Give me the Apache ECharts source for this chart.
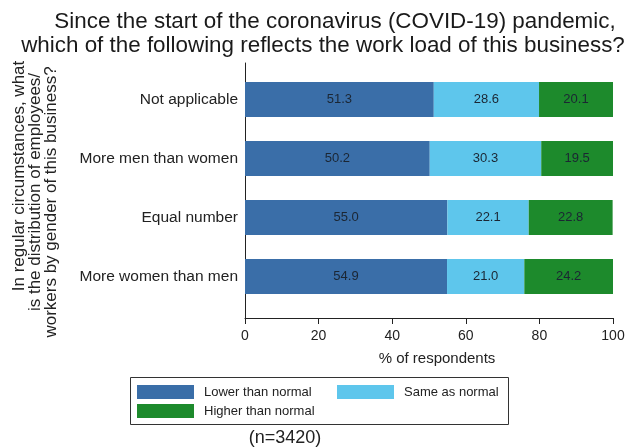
<!DOCTYPE html>
<html>
<head>
<meta charset="utf-8">
<script src="https://cdn.jsdelivr.net/npm/echarts@6/dist/echarts.min.js"></script>
<style>
html,body{margin:0;padding:0;background:#fff;}
#chart{width:631px;height:448px;}
</style>
</head>
<body>
<div id="chart"></div>
<script>
var categories = ['Not applicable', 'More men than women', 'Equal number', 'More women than men'];
var lowerThanNormal = [51.3, 50.2, 55.0, 54.9];
var sameAsNormal = [28.6, 30.3, 22.1, 21.0];
var higherThanNormal = [20.1, 19.5, 22.8, 24.2];
var xTicks = [0, 20, 40, 60, 80, 100];
var seriesNames = ['Lower than normal', 'Same as normal', 'Higher than normal'];
var titleLines = ['Since the start of the coronavirus (COVID-19) pandemic,', 'which of the following reflects the work load of this business?'];
var yTitleLines = ['In regular circumstances, what', 'is the distribution of employees/', 'workers by gender of this business?'];

var FONT = '"Liberation Sans", Arial, sans-serif';
var colors = ['#3a6ea8', '#5ec6ec', '#1d8a2c'];

var chart = echarts.init(document.getElementById('chart'), null, {renderer: 'canvas'});

function barSeries(name, data, color) {
  return {
    name: name,
    type: 'bar',
    stack: 'total',
    xAxisIndex: 0,
    yAxisIndex: 0,
    barWidth: 35,
    data: data,
    itemStyle: {color: color},
    label: {
      show: true,
      position: 'inside',
      color: '#1b2633',
      fontFamily: FONT,
      fontSize: 13,
      formatter: function (p) { return p.value.toFixed(1); }
    },
    emphasis: {disabled: true}
  };
}

function legendOne(name, left, top) {
  return {
    data: [name],
    left: left,
    top: top,
    padding: 0,
    icon: 'rect',
    itemWidth: 57,
    itemHeight: 14,
    selectedMode: false,
    textStyle: {fontFamily: FONT, fontSize: 13, color: '#222', padding: [0, 0, 0, 5]}
  };
}

function yTitle(text, x, y) {
  return {
    type: 'text', x: x, y: y, rotation: Math.PI / 2,
    style: {
      text: text, fontFamily: FONT, fontSize: 17, fill: '#222',
      align: 'center', verticalAlign: 'middle'
    }
  };
}

var option = {
  backgroundColor: '#ffffff',
  animation: false,
  color: colors,
  grid: [
    {left: 245, right: 18, top: 70, height: 236, containLabel: false},
    {left: 245, right: 18, top: 63, bottom: 130, containLabel: false}
  ],
  xAxis: [
    {
      gridIndex: 0, type: 'value', min: 0, max: 100, show: false
    },
    {
      gridIndex: 1, type: 'value', min: xTicks[0], max: xTicks[xTicks.length - 1], interval: 20,
      axisLine: {show: true, lineStyle: {color: '#222', width: 1}},
      axisTick: {show: true, length: 6, lineStyle: {color: '#222'}},
      axisLabel: {show: true, margin: 11, fontFamily: FONT, fontSize: 14, color: '#222'},
      splitLine: {show: false},
      name: '% of respondents',
      nameLocation: 'middle',
      nameGap: 33,
      nameTextStyle: {fontFamily: FONT, fontSize: 15, color: '#222', padding: [0, 0, 0, 16]}
    }
  ],
  yAxis: [
    {
      gridIndex: 0, type: 'category', data: categories, inverse: true,
      axisLine: {show: false},
      axisTick: {show: false},
      axisLabel: {fontFamily: FONT, fontSize: 15.5, color: '#222', margin: 7}
    },
    {
      gridIndex: 1, type: 'value', min: 0, max: 1,
      axisLine: {show: true, lineStyle: {color: '#222', width: 1}},
      axisTick: {show: false},
      axisLabel: {show: false},
      splitLine: {show: false}
    }
  ],
  legend: [
    legendOne(seriesNames[0], 137, 385),
    legendOne(seriesNames[1], 337, 385),
    legendOne(seriesNames[2], 137, 404)
  ],
  graphic: [
    {
      type: 'text', x: 335, y: 22,
      style: {text: titleLines[0], fontFamily: FONT, fontSize: 22.4, fill: '#1a1a1a', align: 'center', verticalAlign: 'middle'}
    },
    {
      type: 'text', x: 323, y: 46,
      style: {text: titleLines[1], fontFamily: FONT, fontSize: 22.4, fill: '#1a1a1a', align: 'center', verticalAlign: 'middle'}
    },
    yTitle(yTitleLines[0], 19, 176),
    yTitle(yTitleLines[1], 35, 192),
    yTitle(yTitleLines[2], 51, 202),
    {
      type: 'rect', shape: {x: 130.5, y: 377.5, width: 378, height: 47},
      style: {fill: 'none', stroke: '#333', lineWidth: 1}, silent: true
    },
    {
      type: 'text', x: 285, y: 438,
      style: {
        text: '(n=3420)', fontFamily: FONT, fontSize: 18, fill: '#222',
        align: 'center', verticalAlign: 'middle'
      }
    }
  ],
  series: [
    barSeries(seriesNames[0], lowerThanNormal, colors[0]),
    barSeries(seriesNames[1], sameAsNormal, colors[1]),
    barSeries(seriesNames[2], higherThanNormal, colors[2])
  ]
};
chart.setOption(option);
</script>
</body>
</html>
